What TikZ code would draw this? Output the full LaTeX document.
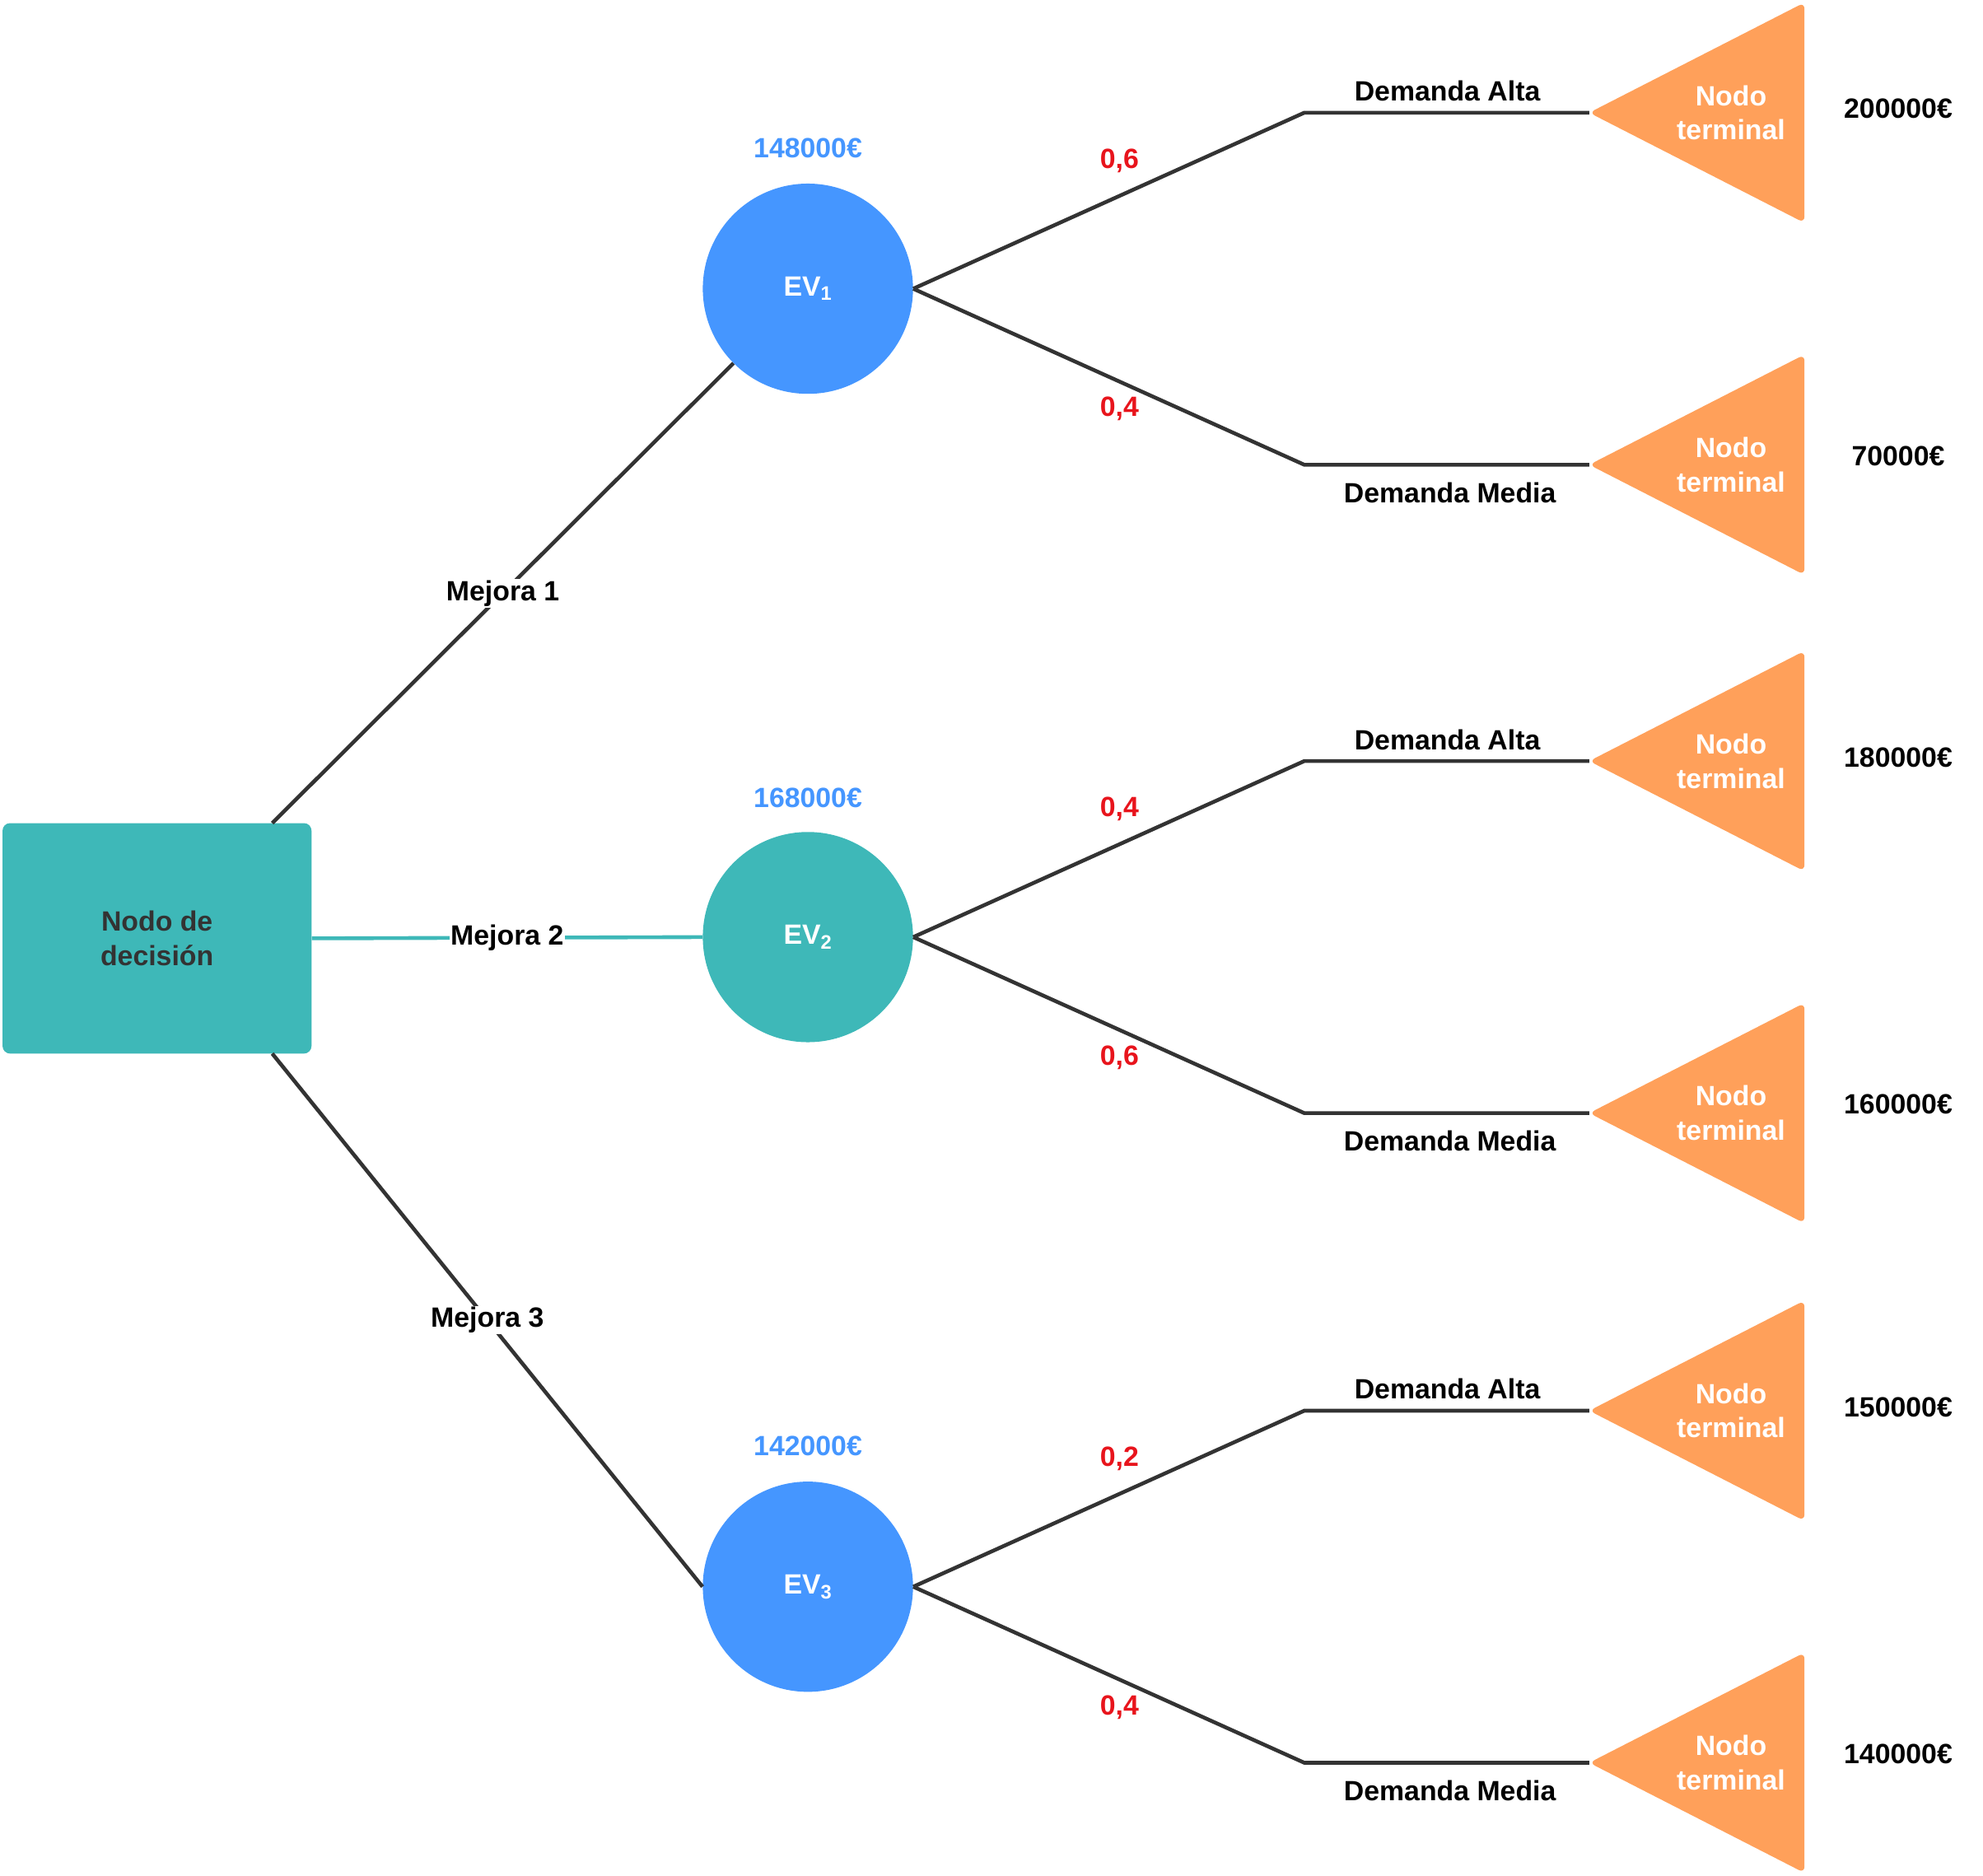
\documentclass[tikz,border=0pt]{standalone}
\usepackage{fontspec}
\setmainfont{Liberation Sans}
\definecolor{tealc}{HTML}{3EB8B8}
\definecolor{bluec}{HTML}{4596FF}
\definecolor{orangec}{HTML}{FFA05A}
\definecolor{redc}{HTML}{E8141C}
\definecolor{darkc}{HTML}{333333}
\tikzset{
  txt/.style={font=\fontsize{22}{27}\selectfont\bfseries, align=center, inner sep=1pt},
  edge/.style={draw=darkc, line width=3pt},
  chance/.style={circle, minimum size=166pt, inner sep=0pt, txt, text=white},
  prob/.style={txt, text=redc},
  lab/.style={txt, fill=white}
}
\begin{document}
\begin{tikzpicture}[x=1pt,y=-1pt]
        \useasboundingbox (0,0) rectangle (1566,1481);
        % decision node
        \node[fill=tealc, rounded corners=6pt, minimum width=244pt, minimum height=182pt, txt, text=darkc] (dec) at (124,741) {Nodo de\\decisión};
        % chance nodes
        \node[chance, fill=bluec] (c1) at (638,228) {EV\textsubscript{1}};
        \node[chance, fill=tealc] (c2) at (638,740) {EV\textsubscript{2}};
        \node[chance, fill=bluec] (c3) at (638,1253) {EV\textsubscript{3}};
        \node[txt, text=bluec] (v1) at (638,117) {148000€};
        \node[txt, text=bluec] (v2) at (638,630) {168000€};
        \node[txt, text=bluec] (v3) at (638,1142) {142000€};
        % decision branches
        \coordinate (d1) at (215,650);
        \coordinate (d3) at (215,832);
        \draw[edge] (d1) -- (c1.225) node[lab, pos=0.5] (m1) {Mejora 1};
        \draw[draw=tealc, line width=3pt] (dec.east) -- (c2.west) node[lab, pos=0.5] (m2) {Mejora 2};
        \draw[edge] (d3) -- (c3.west) node[lab, pos=0.5] (m3) {Mejora 3};
        % chance branches and terminal nodes
        \foreach \i/\y/\pa/\pb/\va/\vb in {1/228/{0,6}/{0,4}/200000/70000, 2/740/{0,4}/{0,6}/180000/160000, 3/1253/{0,2}/{0,4}/150000/140000}{
          \coordinate (a\i) at (1030,\y-139);
          \coordinate (b\i) at (1030,\y+139);
          \coordinate (ta\i) at (1255,\y-139);
          \coordinate (tb\i) at (1255,\y+139);
          \draw[edge] (c\i.east) -- (a\i) -- (ta\i);
          \draw[edge] (c\i.east) -- (b\i) -- (tb\i);
          \node[prob] (pa\i) at (884,\y-101) {\pa};
          \node[prob] (pb\i) at (884,\y+95) {\pb};
          \node[txt] (da\i) at (1143,\y-156) {Demanda Alta};
          \node[txt] (db\i) at (1145,\y+161) {Demanda Media};
          \fill[orangec, rounded corners=5pt] (ta\i) -- (1425,\y-226) -- (1425,\y-52) -- cycle;
          \fill[orangec, rounded corners=5pt] (tb\i) -- (1425,\y+52) -- (1425,\y+226) -- cycle;
          \node[txt, text=white] (na\i) at (1367,\y-139) {Nodo\\terminal};
          \node[txt, text=white] (nb\i) at (1367,\y+139) {Nodo\\terminal};
          \node[txt] (ra\i) at (1499,\y-142) {\va€};
          \node[txt] (rb\i) at (1499,\y+132) {\vb€};
        }
\end{tikzpicture}
\end{document}
